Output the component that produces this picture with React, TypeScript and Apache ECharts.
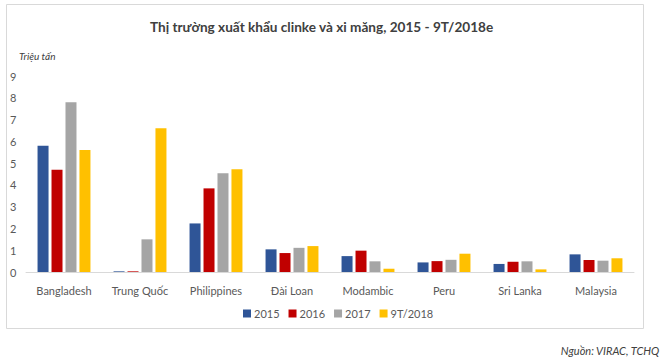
import React, { useEffect, useRef } from "react";
import * as echarts from "echarts";

const categories = ["Bangladesh", "Trung Quốc", "Philippines", "Đài Loan", "Modambic", "Peru", "Sri Lanka", "Malaysia"];
const seriesNames = ["2015", "2016", "2017", "9T/2018"];
const v2015 = [5.8, 0.03, 2.23, 1.04, 0.73, 0.44, 0.37, 0.81];
const v2016 = [4.7, 0.03, 3.84, 0.87, 0.98, 0.5, 0.47, 0.55];
const v2017 = [7.8, 1.5, 4.53, 1.11, 0.49, 0.56, 0.49, 0.52];
const v2018 = [5.6, 6.6, 4.72, 1.19, 0.15, 0.84, 0.12, 0.63];
const colors = ["#2F5597", "#C00000", "#A5A5A5", "#FFC000"];

const FONT = "Lato, 'Open Sans', sans-serif";

export default function App() {
  const ref = useRef<HTMLDivElement>(null);
  useEffect(() => {
    document.body.style.margin = "0";
    const chart = echarts.init(ref.current!, null, { renderer: "svg" });
    const data = [v2015, v2016, v2017, v2018];
    chart.setOption({
      animation: false,
      backgroundColor: "#fff",
      textStyle: { fontFamily: FONT },
      title: {
        text: "Thị trường xuất khẩu clinke và xi măng, 2015 - 9T/2018e",
        left: 145,
        top: 15,
        textStyle: { fontSize: 13.6, fontWeight: "bold", color: "#404040", fontFamily: FONT },
      },
      legend: {
        data: seriesNames,
        left: 238,
        top: 303,
        itemWidth: 8,
        itemHeight: 8,
        itemGap: 9,
        icon: "rect",
        textStyle: { fontSize: 11, color: "#595959", padding: [0, 0, 0, -2] },
      },
      grid: { left: 26, right: 33, top: 76, bottom: 91 },
      xAxis: {
        type: "category",
        data: categories,
        axisLine: { lineStyle: { color: "#D9D9D9" } },
        axisTick: { show: false },
        axisLabel: { color: "#595959", fontSize: 11, margin: 13 },
      },
      yAxis: {
        type: "value",
        min: 0,
        max: 9,
        interval: 1,
        splitLine: { show: false },
        axisLine: { show: false },
        axisTick: { show: false },
        axisLabel: { color: "#595959", fontSize: 11, align: "left", margin: 16 },
      },
      series: seriesNames.map((n, i) => ({
        name: n,
        type: "bar",
        data: data[i],
        barWidth: 11,
        barGap: "27%",
        itemStyle: { color: colors[i] },
      })),
      graphic: [
        {
          type: "rect",
          shape: { x: 6.5, y: 4.5, width: 637, height: 324 },
          style: { fill: "none", stroke: "#D9D9D9", lineWidth: 1 },
          z: -1,
        },
        {
          type: "text",
          left: 19,
          top: 51,
          style: { text: "Triệu tấn", font: `italic 10px ${FONT}`, fill: "#404040" },
        },
        {
          type: "text",
          right: 7,
          top: 345,
          style: { text: "Nguồn: VIRAC, TCHQ", font: `italic 11px ${FONT}`, fill: "#404040" },
        },
      ],
    });
    return () => chart.dispose();
  }, []);
  return <div ref={ref} style={{ width: 667, height: 363 }} />;
}
